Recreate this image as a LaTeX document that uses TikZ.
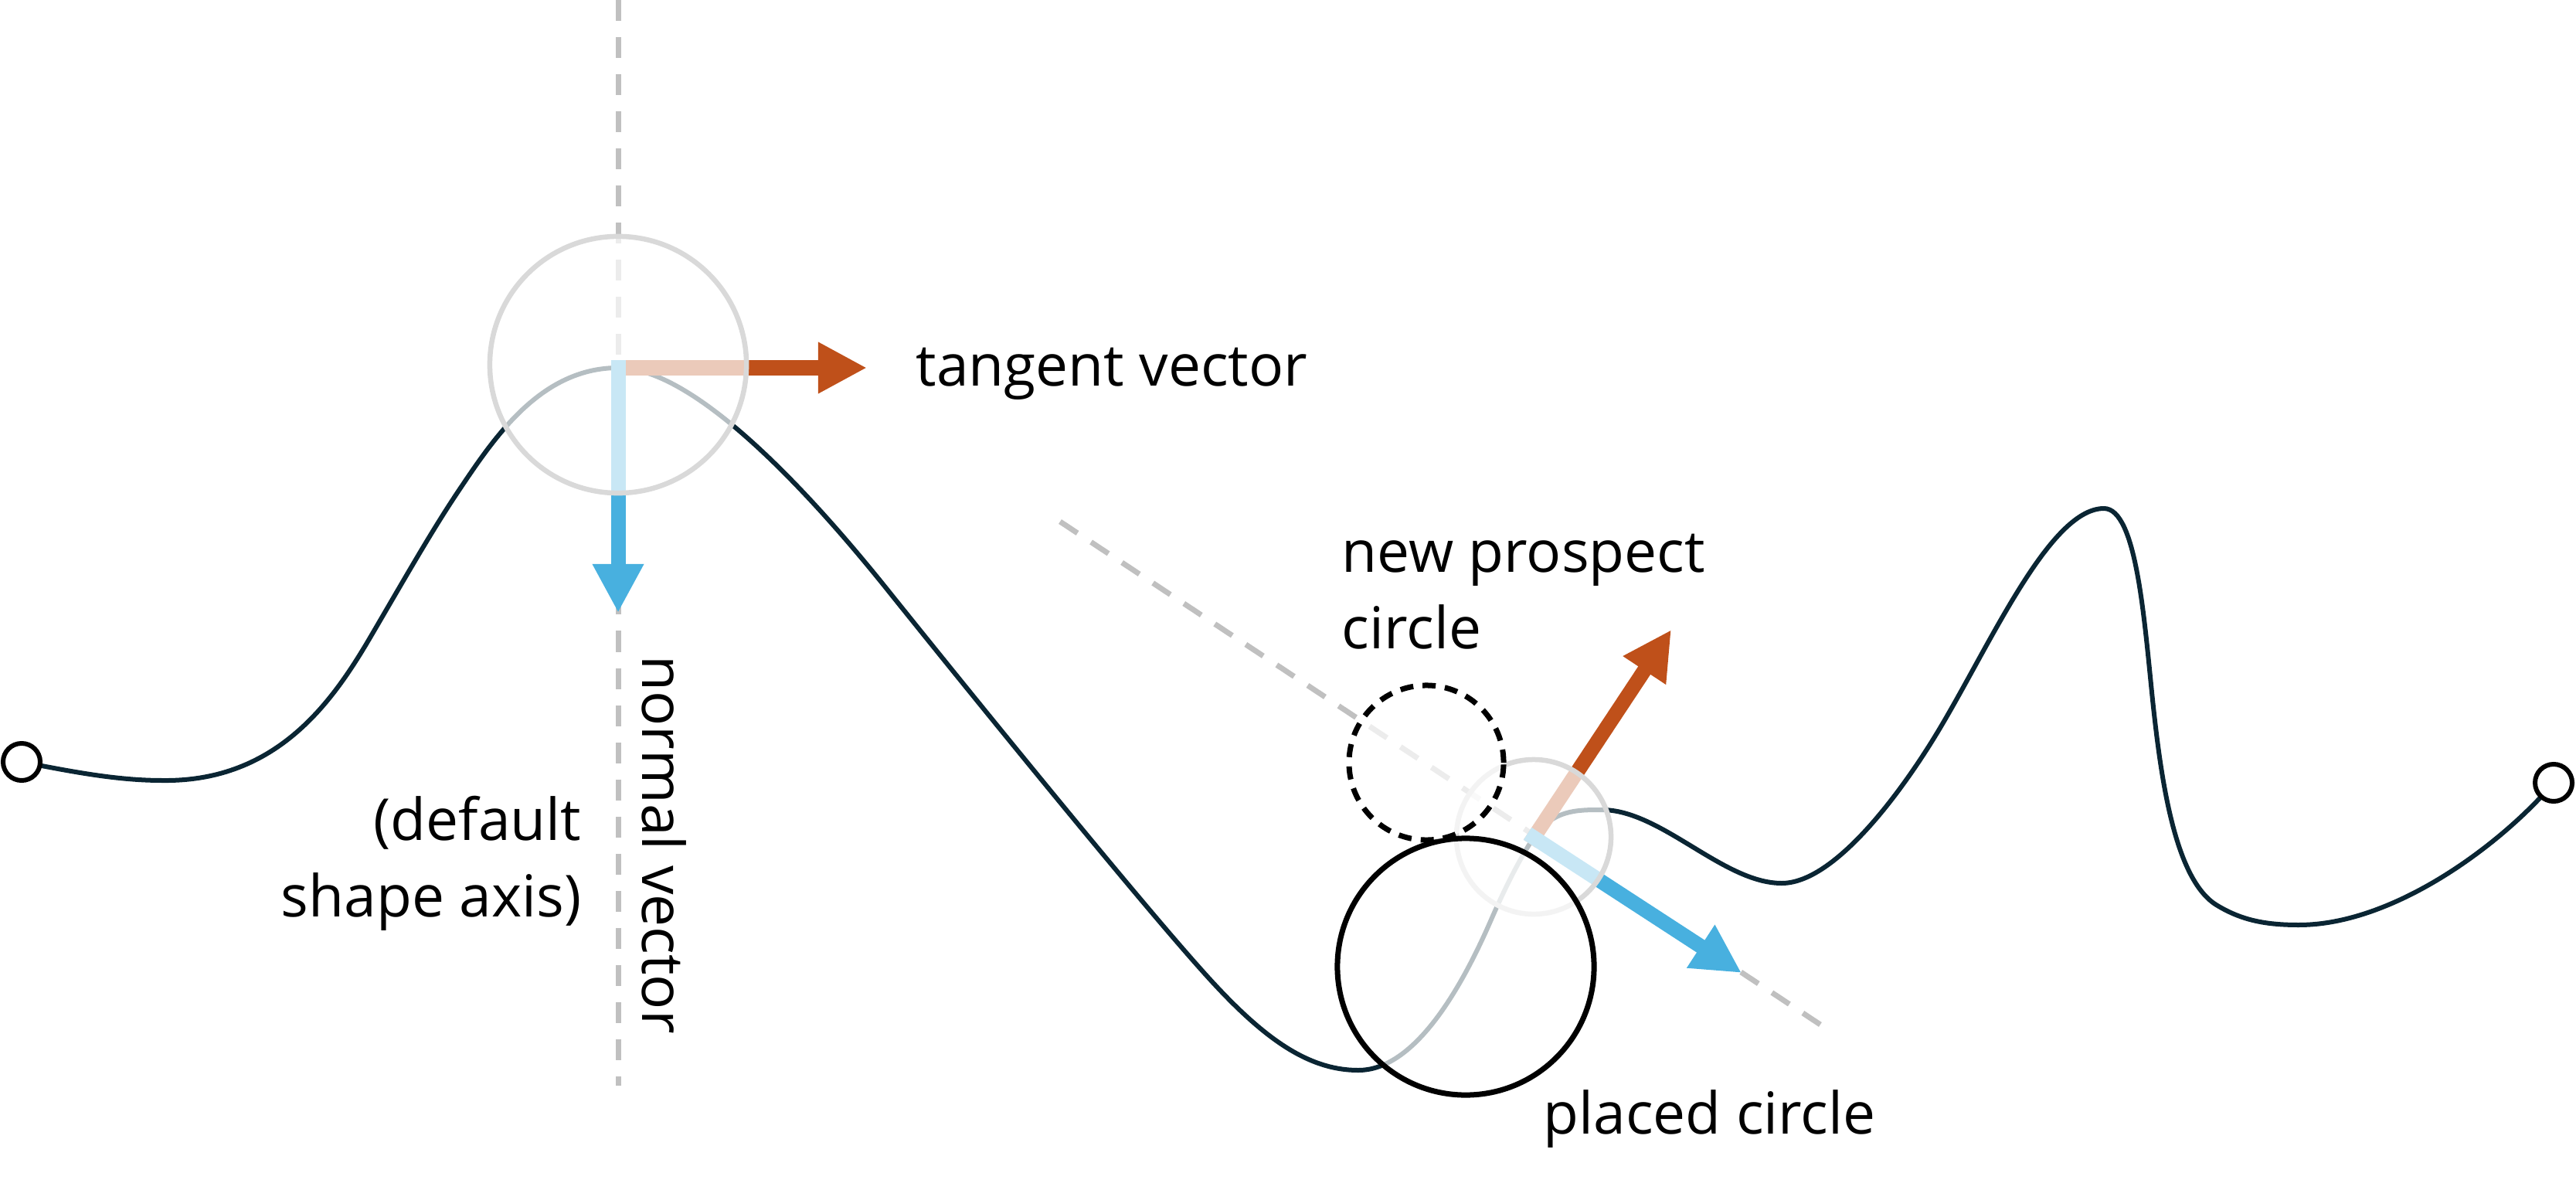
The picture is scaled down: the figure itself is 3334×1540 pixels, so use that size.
\documentclass[tikz,border=0pt]{standalone}
\usepackage{fontspec}
\setmainfont{Open Sans}
\usepackage{xcolor}
\usepackage{tikz}
\usetikzlibrary{arrows.meta}

\definecolor{pathcol}{HTML}{0A2533}
\definecolor{tancol}{HTML}{BF501A}
\definecolor{normcol}{HTML}{48B0DF}
\definecolor{guidecol}{HTML}{C0C0C0}
\definecolor{ringcol}{HTML}{D9D9D9}

\begin{document}
\begin{tikzpicture}[
  x=0.01cm, y=-0.01cm,
  font=\fontsize{21.3}{27.9}\selectfont,
  route/.style={draw=pathcol, line width=0.06cm},
  guide/.style={draw=guidecol, line width=0.07cm, dash pattern=on 0.27cm off 0.21cm},
  vec/.style={-{Triangle[length=0.63cm, width=0.62cm]}, line width=0.19cm, line cap=rect},
  ring/.style={circle, draw=ringcol, line width=0.065cm, fill=white, fill opacity=0.7, inner sep=0},
  placed/.style={circle, draw=black, line width=0.07cm, fill=white, fill opacity=0.7, inner sep=0},
  prospect/.style={placed, dash pattern=on 0.17cm off 0.12cm},
  endpt/.style={circle, draw=black, fill=white, line width=0.06cm, minimum size=0.48cm, inner sep=0},
  txt/.style={inner sep=0, text=black}
]
\useasboundingbox (0,0) rectangle (3334,1540);

% contact points and free ends
\coordinate (p0) at (28,986);
\coordinate (p1) at (3305,1013);
\coordinate (o1) at (800,476);
\coordinate (o2) at (1985,1084);
\coordinate (t1) at (1122,476);
\coordinate (n1) at (800,793);
\coordinate (t2) at (2163,815);
\coordinate (n2) at (2254,1259);
\coordinate (axtop) at (800,0);
\coordinate (axbot) at (800,1405);
\coordinate (dgtop) at (1372,675);
\coordinate (dgbot) at (2359,1328);

% guide lines
\draw[guide] (axtop) -- (axbot);
\draw[guide] (dgtop) -- (dgbot);

% the path
\draw[route] (p0)
  .. controls (90,998) and (150,1010) .. (210,1010)
  .. controls (360,1012) and (432,906) .. (482,820)
  .. controls (530,738) and (560,685) .. (595,633)
  .. controls (640,566) and (700,476) .. (o1)
  .. controls (900,476) and (1050,640) .. (1150,765)
  .. controls (1280,927) and (1470,1160) .. (1553,1253)
  .. controls (1630,1340) and (1690,1385) .. (1758,1385)
  .. controls (1830,1385) and (1890,1282) .. (1930,1190)
  .. controls (1950,1144) and (1970,1106) .. (o2)
  .. controls (2010,1048) and (2040,1048) .. (2073,1048)
  .. controls (2150,1048) and (2230,1143) .. (2306,1143)
  .. controls (2370,1143) and (2450,1040) .. (2500,960)
  .. controls (2570,848) and (2650,658) .. (2723,658)
  .. controls (2765,658) and (2775,800) .. (2786,906)
  .. controls (2797,1010) and (2815,1140) .. (2870,1172)
  .. controls (2900,1190) and (2930,1197) .. (2975,1197)
  .. controls (3100,1197) and (3240,1090) .. (p1);

% vectors
\draw[vec, tancol] (o1) -- (t1);
\draw[vec, normcol] (o1) -- (n1);
\draw[vec, tancol] (o2) -- (t2);
\draw[vec, normcol] (o2) -- (n2);

% circles
\node[ring, minimum size=3.32cm] (probe) at (800,472) {};
\node[ring, minimum size=2cm] (seed) at (1985,1083) {};
\node[placed, minimum size=3.32cm] (placedc) at (1897,1251) {};
\node[prospect, minimum size=2cm] (newc) at (1846,987) {};
\node[endpt] (start) at (p0) {};
\node[endpt] (finish) at (p1) {};

% labels
\node[txt, anchor=base west] (tanlab) at (1185,500) {tangent vector};
\node[txt, anchor=base west, rotate=-90] (normlab) at (831,848) {normal vector};
\node[txt, anchor=base east, align=right] (axislab) at (753,1186) {(default\\shape axis)};
\node[txt, anchor=base west, align=left] (newlab) at (1736,839) {new prospect\\circle};
\node[txt, anchor=base west] (placedlab) at (1997,1467) {placed circle};
\end{tikzpicture}
\end{document}
